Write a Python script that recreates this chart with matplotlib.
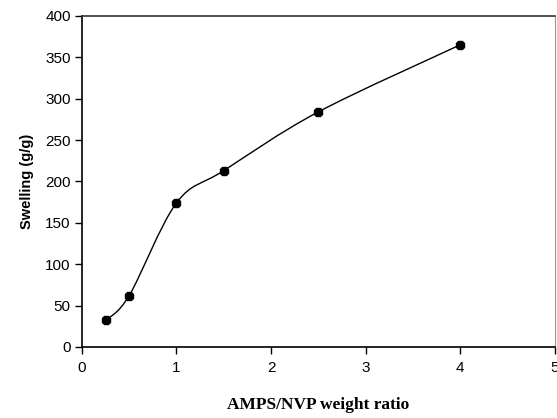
import numpy as np
import matplotlib
matplotlib.use("Agg")
from matplotlib import pyplot as plt
from matplotlib.path import Path
from matplotlib.patches import PathPatch

# AMPS/NVP weight ratio vs swelling (g/g)
ratio = [0.25, 0.5, 1.0, 1.5, 2.5, 4.0]
swelling = [32, 62, 174, 213, 284, 365]

x_ticks = [0, 1, 2, 3, 4, 5]
y_ticks = [0, 50, 100, 150, 200, 250, 300, 350, 400]

fig = plt.figure(figsize=(5.57, 4.18), dpi=100)
ax = fig.add_axes([0.147, 0.170, 0.849, 0.792])

# smoothed line like a spreadsheet "smoothed line" (bezier through the points)
pts = np.column_stack([ratio, swelling]).astype(float)
verts = [pts[0]]
codes = [Path.MOVETO]
n = len(pts)
for i in range(n - 1):
    p0 = pts[i - 1] if i > 0 else pts[i]
    p1 = pts[i]
    p2 = pts[i + 1]
    p3 = pts[i + 2] if i + 2 < n else pts[i + 1]
    c1 = p1 + (p2 - p0) / 6.0
    c2 = p2 - (p3 - p1) / 6.0
    verts += [c1, c2, p2]
    codes += [Path.CURVE4] * 3
ax.add_patch(PathPatch(Path(verts, codes), fill=False, edgecolor="black", lw=1.0))
ax.plot(ratio, swelling, linestyle="none", marker="8", markersize=7,
        color="black", zorder=3)

ax.set_xlim(0, 5)
ax.set_ylim(0, 400)
ax.set_xticks(x_ticks)
ax.set_yticks(y_ticks)
ax.tick_params(direction="out", length=5, width=1, labelsize=11, colors="black")
ax.tick_params(axis="y", pad=3)
ax.tick_params(axis="x", pad=5)
for lab in ax.get_xticklabels() + ax.get_yticklabels():
    lab.set_family("Liberation Sans")

ax.spines["left"].set_linewidth(1.2)
ax.spines["bottom"].set_linewidth(1.2)
ax.spines["top"].set_linewidth(1.2)
ax.spines["top"].set_color("#333333")
ax.spines["right"].set_linewidth(0.8)
ax.spines["right"].set_color("#999999")

ax.set_ylabel("Swelling (g/g)", fontsize=10.5, fontweight="bold",
              family="Liberation Sans", labelpad=8)
ax.set_xlabel("AMPS/NVP weight ratio", fontsize=12.5, fontweight="bold",
              family="Liberation Serif", labelpad=16)

fig.savefig("out.png", dpi=100)
